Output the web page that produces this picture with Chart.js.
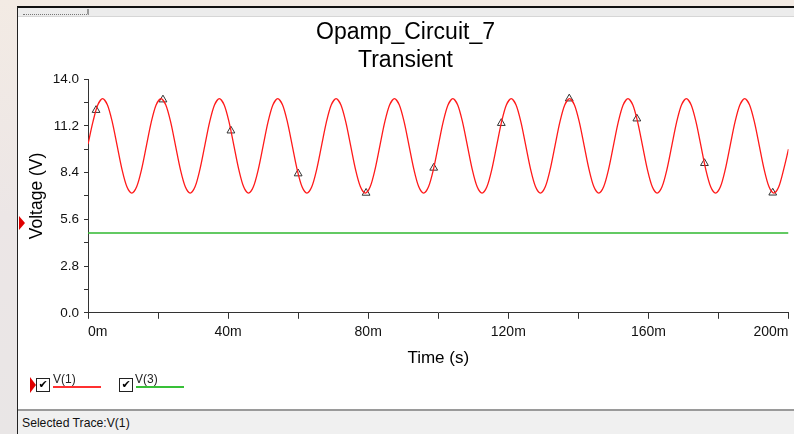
<!DOCTYPE html>
<html>
<head>
<meta charset="utf-8">
<script src="https://cdn.jsdelivr.net/npm/chart.js@4.4.1/dist/chart.umd.min.js"></script>
<style>
  html, body { margin: 0; padding: 0; }
  body {
    width: 794px; height: 434px; overflow: hidden; position: relative;
    background: linear-gradient(180deg, #f3ebe4 0%, #ece6e6 50%, #e9e6e6 100%);
    font-family: Arial, "Liberation Sans", sans-serif;
  }
  #win {
    position: absolute; left: 17px; top: 6px; right: 0; bottom: 0;
    background: #fff; border-left: 1px solid #222; border-top: 2px solid #111;
  }
  #strip {
    position: absolute; left: 18px; top: 8px; right: 0; height: 8px;
    background: #ececec; border-bottom: 1px solid #d6d6d6;
  }
  #strip .box {
    position: absolute; left: 5px; top: 1px; width: 64px; height: 5px;
    border-bottom: 1px dotted #777; border-right: 2px solid #999;
  }
  #plot { position: absolute; left: 18px; top: 16px; width: 776px; height: 359px; }
  .tri {
    position: absolute; width: 0; height: 0;
    border-top: 7px solid transparent; border-bottom: 7px solid transparent;
    border-left: 6px solid #e00000;
  }
  .legend { position: absolute; top: 373px; width: 80px; height: 22px; }
  .chk {
    position: absolute; top: 5px; width: 12px; height: 12px; border: 1px solid #222;
    font: bold 11px "DejaVu Sans", sans-serif; line-height: 12px; text-align: center; color: #000;
  }
  .lbl { position: absolute; top: -1px; font-size: 12px; color: #222; }
  .ln { position: absolute; top: 13px; width: 48px; height: 2px; }
  #status {
    position: absolute; left: 18px; right: 0; top: 409px; bottom: 0;
    background: #f0f0f0; border-top: 2px solid #9a9a9a;
    font-size: 12.2px; color: #111; line-height: 24px; padding-left: 4px;
  }
</style>
</head>
<body>
<div id="win"></div>
<div id="strip"><div class="box"></div></div>
<div id="plot"><canvas id="chart"></canvas></div>
<div class="tri" style="left:19px; top:216px;"></div>

<div class="legend" style="left:30px;">
  <div class="tri" style="left:0; top:4px; border-top-width:8px; border-bottom-width:8px;"></div>
  <div class="chk" style="left:6px;">✔</div>
  <div class="lbl" style="left:23px;">V(1)</div>
  <div class="ln" style="left:23px; background-color:#ff3030;"></div>
</div>
<div class="legend" style="left:119px;">
  <div class="chk" style="left:0;">✔</div>
  <div class="lbl" style="left:16px;">V(3)</div>
  <div class="ln" style="left:17px; background-color:#38c038;"></div>
</div>
<div id="status">Selected Trace:V(1)</div>

<script>
// time in ms
const timesMs = [
  0, 1.39, 2.78, 4.17, 5.56, 6.94, 8.33, 9.72, 11.11, 12.5, 13.89, 15.28,
  16.67, 18.06, 19.44, 20.83, 22.22, 23.61, 25, 26.39, 27.78, 29.17, 30.56, 31.94,
  33.33, 34.72, 36.11, 37.5, 38.89, 40.28, 41.67, 43.06, 44.44, 45.83, 47.22, 48.61,
  50, 51.39, 52.78, 54.17, 55.56, 56.94, 58.33, 59.72, 61.11, 62.5, 63.89, 65.28,
  66.67, 68.06, 69.44, 70.83, 72.22, 73.61, 75, 76.39, 77.78, 79.17, 80.56, 81.94,
  83.33, 84.72, 86.11, 87.5, 88.89, 90.28, 91.67, 93.06, 94.44, 95.83, 97.22, 98.61,
  100, 101.39, 102.78, 104.17, 105.56, 106.94, 108.33, 109.72, 111.11, 112.5, 113.89, 115.28,
  116.67, 118.06, 119.44, 120.83, 122.22, 123.61, 125, 126.39, 127.78, 129.17, 130.56, 131.94,
  133.33, 134.72, 136.11, 137.5, 138.89, 140.28, 141.67, 143.06, 144.44, 145.83, 147.22, 148.61,
  150, 151.39, 152.78, 154.17, 155.56, 156.94, 158.33, 159.72, 161.11, 162.5, 163.89, 165.28,
  166.67, 168.06, 169.44, 170.83, 172.22, 173.61, 175, 176.39, 177.78, 179.17, 180.56, 181.94,
  183.33, 184.72, 186.11, 187.5, 188.89, 190.28, 191.67, 193.06, 194.44, 195.83, 197.22, 198.61,
  200
];
const v1Values = [
  10.1, 11.42, 12.45, 12.83, 12.45, 11.42, 10.0, 8.58, 7.55, 7.17, 7.55, 8.58,
  10.0, 11.42, 12.45, 12.83, 12.45, 11.42, 10.0, 8.58, 7.55, 7.17, 7.55, 8.58,
  10.0, 11.42, 12.45, 12.83, 12.45, 11.42, 10.0, 8.58, 7.55, 7.17, 7.55, 8.58,
  10.0, 11.42, 12.45, 12.83, 12.45, 11.42, 10.0, 8.58, 7.55, 7.17, 7.55, 8.58,
  10.0, 11.42, 12.45, 12.83, 12.45, 11.42, 10.0, 8.58, 7.55, 7.17, 7.55, 8.58,
  10.0, 11.42, 12.45, 12.83, 12.45, 11.42, 10.0, 8.58, 7.55, 7.17, 7.55, 8.58,
  10.0, 11.42, 12.45, 12.83, 12.45, 11.42, 10.0, 8.58, 7.55, 7.17, 7.55, 8.58,
  10.0, 11.42, 12.45, 12.83, 12.45, 11.42, 10.0, 8.58, 7.55, 7.17, 7.55, 8.58,
  10.0, 11.42, 12.45, 12.83, 12.45, 11.42, 10.0, 8.58, 7.55, 7.17, 7.55, 8.58,
  10.0, 11.42, 12.45, 12.83, 12.45, 11.42, 10.0, 8.58, 7.55, 7.17, 7.55, 8.58,
  10.0, 11.42, 12.45, 12.83, 12.45, 11.42, 10.0, 8.58, 7.55, 7.17, 7.55, 8.58,
  10.0, 11.42, 12.45, 12.83, 12.45, 11.42, 10.0, 8.58, 7.55, 7.17, 7.55, 8.58,
  9.8
];
const markerTimes = [2.3, 21.4, 40.8, 60.0, 79.4, 98.7, 118.0, 137.4, 156.7, 176.0, 195.5];
const markerValues = [12.14, 12.77, 10.91, 8.34, 7.18, 8.68, 11.36, 12.83, 11.63, 8.96, 7.19];
const v3Times = [0, 200];
const v3Values = [4.78, 4.78];

const titleLines = ["Opamp_Circuit_7", "Transient"];
const FONT = "Arial, 'Liberation Sans', sans-serif";

const pts = (xs, ys) => xs.map((x, i) => ({ x, y: ys[i] }));

new Chart(document.getElementById("chart").getContext("2d"), {
  type: "line",
  data: {
    datasets: [
      {
        label: "V(1)",
        data: pts(timesMs, v1Values),
        borderColor: "#ff1a1a",
        borderWidth: 1.3,
        pointRadius: 0,
        tension: 0.3,
        fill: false,
      },
      {
        label: "V(1) markers",
        data: pts(markerTimes, markerValues),
        showLine: false,
        pointStyle: "triangle",
        pointRadius: 4.5,
        borderColor: "#333",
        borderWidth: 1,
        backgroundColor: "rgba(0,0,0,0)",
      },
      {
        label: "V(3)",
        data: pts(v3Times, v3Values),
        borderColor: "#2fb82f",
        borderWidth: 1.3,
        pointRadius: 0,
      },
    ],
  },
  options: {
    responsive: true,
    maintainAspectRatio: false,
    animation: false,
    layout: { padding: { left: 0, right: 1, top: 0, bottom: 0 } },
    plugins: {
      legend: { display: false },
      tooltip: { enabled: false },
      title: {
        display: true,
        text: titleLines,
        color: "#000",
        font: { family: FONT, size: 23, weight: "normal", lineHeight: 1.22 },
        padding: { top: 3, bottom: 4 },
      },
    },
    scales: {
      x: {
        type: "linear",
        min: 0,
        max: 200,
        ticks: {
          stepSize: 20,
          autoSkip: false,
          maxRotation: 0,
          align: "inner",
          color: "#111",
          padding: 5,
          font: { family: FONT, size: 14 },
          callback: (v, i) => (i % 2 === 0 ? v + "m" : ""),
        },
        grid: { drawOnChartArea: false, drawTicks: true, tickLength: 6, tickColor: "#333" },
        border: { display: true, color: "#333", width: 1 },
        title: {
          display: true,
          text: "Time (s)",
          color: "#000",
          font: { family: FONT, size: 17 },
          padding: { top: 3, bottom: 6 },
        },
        afterFit: (scale) => { scale.paddingLeft = 0; scale.paddingRight = 0; },
      },
      y: {
        min: 0,
        max: 14,
        ticks: {
          stepSize: 1.4,
          color: "#111",
          padding: 5,
          font: { family: FONT, size: 13.5 },
          callback: (v, i) => (i % 2 === 0 ? Number(v).toFixed(1) : ""),
        },
        grid: { drawOnChartArea: false, drawTicks: true, tickLength: 4, tickColor: "#333" },
        border: { display: true, color: "#333", width: 1 },
        title: {
          display: true,
          text: "Voltage (V)",
          color: "#000",
          font: { family: FONT, size: 17.5 },
          padding: { top: 9, bottom: 0 },
        },
        afterFit: (scale) => { scale.width = 70; },
      },
    },
  },
});
</script>
</body>
</html>
